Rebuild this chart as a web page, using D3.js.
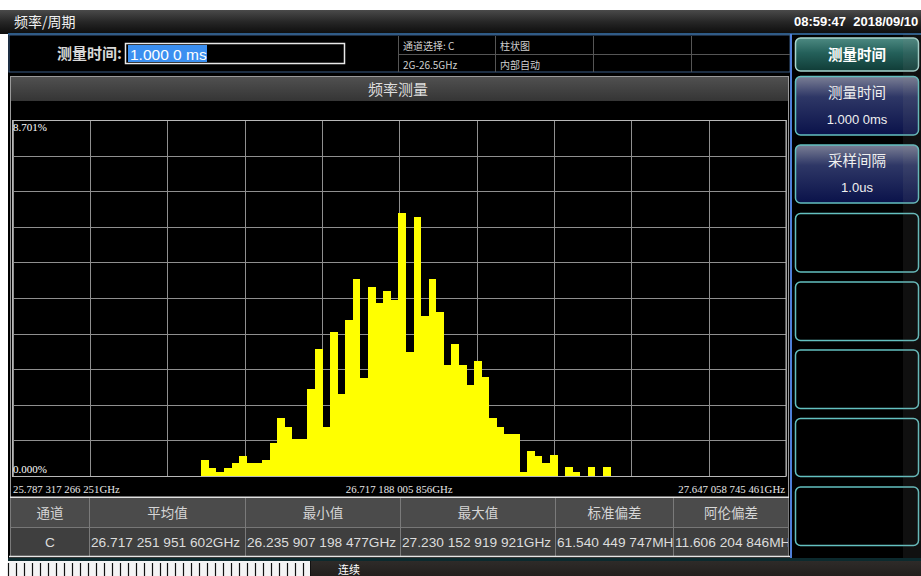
<!DOCTYPE html>
<html>
<head>
<meta charset="utf-8">
<script src="https://cdn.jsdelivr.net/npm/d3@7"></script>
<style>
  html, body { margin: 0; padding: 0; background: #ffffff; overflow: hidden; }
  svg { display: block; }
  .cjk { font-family: "Noto Sans CJK SC", "Noto Sans", sans-serif; }
  .sans { font-family: "Liberation Sans", "DejaVu Sans", sans-serif; }
  .serif { font-family: "Liberation Serif", "DejaVu Serif", serif; }
</style>
</head>
<body>
<script>
// ---- Measurement data -------------------------------------------------
// Frequency axis span (GHz) and the histogram bin range
const xDomainGHz = [25.787317266251, 27.647058745461];
const histRangeGHz = [26.2413, 27.2253];
// Percentage of samples falling in each bin
const binPercent = [
  0.391, 0.203, 0.105, 0.203, 0.310, 0.496, 0.310, 0.310, 0.391, 0.799,
  1.410, 1.205, 0.904, 0.904, 2.119, 3.104, 1.205, 3.512, 2.004, 3.813,
  4.815, 2.403, 4.619, 4.221, 4.522, 4.309, 6.421, 3.038, 6.323, 3.918,
  4.815, 4.016, 2.713, 3.219, 2.713, 2.224, 2.811, 2.412, 1.425, 1.205,
  1.019, 1.019, 0.105, 0.611, 0.496, 0.325, 0.513, 0.000, 0.213, 0.105,
  0.000, 0.213, 0.000, 0.213
];
const yMaxPercent = 8.701;
const yTickLabels = ["8.701%", "0.000%"];
const xTickLabels = ["25.787 317 266 251GHz", "26.717 188 005 856GHz", "27.647 058 745 461GHz"];

// Statistics table
const statHeaders = ["通道", "平均值", "最小值", "最大值", "标准偏差", "阿伦偏差"];
const statValues = ["C", "26.717 251 951 602GHz", "26.235 907 198 477GHz", "27.230 152 919 921GHz", "61.540 449 747MHz", "11.606 204 846MHz"];

// Header / soft keys
const windowTitle = "频率/周期";
const clockText = "08:59:47  2018/09/10";
const gateLabel = "测量时间:";
const gateValue = "1.000 0 ms";
const infoCells = [["通道选择: C", "柱状图", "", ""], ["2G-26.5GHz", "内部自动", "", ""]];
const panelTitle = "频率测量";
const softKeys = [
  { title: "测量时间", value: null, style: "active" },
  { title: "测量时间", value: "1.000 0ms", style: "menu" },
  { title: "采样间隔", value: "1.0us", style: "menu" },
  { title: null, value: null, style: "empty" },
  { title: null, value: null, style: "empty" },
  { title: null, value: null, style: "empty" },
  { title: null, value: null, style: "empty" },
  { title: null, value: null, style: "empty" }
];
const runModeText = "连续";

// ---- Drawing ----------------------------------------------------------
const W = 921, H = 576;
const svg = d3.select("body").append("svg").attr("width", W).attr("height", H);
const defs = svg.append("defs");

function vGrad(id, stops) {
  const g = defs.append("linearGradient").attr("id", id)
    .attr("x1", 0).attr("y1", 0).attr("x2", 0).attr("y2", 1);
  stops.forEach(([o, c]) => g.append("stop").attr("offset", o).attr("stop-color", c));
}
vGrad("gTitle", [[0, "#4a4a4a"], [0.5, "#262626"], [1, "#0c0c0c"]]);
vGrad("gPanelTitle", [[0, "#505050"], [1, "#353535"]]);
vGrad("gActive", [[0, "#4d8a82"], [0.45, "#24605a"], [1, "#103c37"]]);
vGrad("gMenu", [[0, "#7b7f95"], [0.35, "#2e3766"], [1, "#0a124a"]]);
vGrad("gBottom", [[0, "#2e2b29"], [1, "#221f1d"]]);

// page background
svg.append("rect").attr("width", W).attr("height", H).attr("fill", "#ffffff");
svg.append("rect").attr("x", 8).attr("y", 33).attr("width", W - 8).attr("height", H - 33).attr("fill", "#000000");

// window title bar
svg.append("rect").attr("x", 0).attr("y", 10).attr("width", W).attr("height", 24).attr("fill", "url(#gTitle)");
svg.append("text").attr("class", "cjk").attr("x", 14).attr("y", 27).attr("fill", "#f0f0f0")
  .attr("font-size", 14).text(windowTitle);
svg.append("text").attr("class", "sans").attr("x", 794).attr("y", 26).attr("fill", "#ffffff")
  .attr("font-size", 13).attr("font-weight", "bold").attr("xml:space", "preserve").text(clockText);
svg.append("rect").attr("x", 8).attr("y", 33).attr("width", W - 8).attr("height", 2).attr("fill", "#2c5a86");

// header row: gate time entry + info cells
svg.append("rect").attr("x", 9).attr("y", 35).attr("width", 781).attr("height", 37)
  .attr("fill", "#000").attr("stroke", "#3a5d85").attr("stroke-width", 1);
svg.append("text").attr("class", "cjk").attr("x", 122).attr("y", 59).attr("text-anchor", "end")
  .attr("fill", "#d8d8d8").attr("font-size", 15).attr("font-weight", "bold").text(gateLabel);
svg.append("rect").attr("x", 125.5).attr("y", 43.5).attr("width", 219).attr("height", 20)
  .attr("fill", "#000").attr("stroke", "#e8e8e8").attr("stroke-width", 1.5);
svg.append("rect").attr("x", 128).attr("y", 45).attr("width", 79).attr("height", 17).attr("fill", "#3b8ff0");
svg.append("text").attr("class", "sans").attr("x", 130).attr("y", 59.5).attr("fill", "#ffffff")
  .attr("font-size", 15.5).attr("xml:space", "preserve").text(gateValue);

const infoX = [398, 495, 593, 691, 790];
const infoRowY = [36, 54.5, 72];
const infoG = svg.append("g");
infoX.forEach(x => infoG.append("line").attr("x1", x + 0.5).attr("x2", x + 0.5)
  .attr("y1", 36).attr("y2", 72).attr("stroke", "#555"));
infoG.append("line").attr("x1", 398).attr("x2", 790).attr("y1", 54.5).attr("y2", 54.5).attr("stroke", "#555");
infoCells.forEach((row, r) => row.forEach((t, c) => {
  if (!t) return;
  infoG.append("text").attr("class", "cjk").attr("x", infoX[c] + 5).attr("y", infoRowY[r] + 14)
    .attr("fill", "#cfcfcf").attr("font-size", 10).text(t);
}));

// main panel frame
svg.append("rect").attr("x", 10.5).attr("y", 76.5).attr("width", 778).attr("height", 480)
  .attr("fill", "#000").attr("stroke", "#9a9a9a");
svg.append("rect").attr("x", 11).attr("y", 77).attr("width", 777).attr("height", 24).attr("fill", "url(#gPanelTitle)");
svg.append("text").attr("class", "cjk").attr("x", 398).attr("y", 95).attr("text-anchor", "middle")
  .attr("fill", "#dedede").attr("font-size", 15).text(panelTitle);

// histogram plot
const plot = { left: 12.5, right: 786, top: 120, bottom: 476 };
const x = d3.scaleLinear().domain(xDomainGHz).range([plot.left, plot.right]);
const y = d3.scaleLinear().domain([0, yMaxPercent]).range([plot.bottom, plot.top]);

const gridG = svg.append("g");
const xGridVals = d3.range(11).map(i => xDomainGHz[0] + i * (xDomainGHz[1] - xDomainGHz[0]) / 10);
const yGridVals = d3.range(11).map(i => i * yMaxPercent / 10);
gridG.selectAll("line.vx").data(xGridVals).join("line")
  .attr("x1", d => Math.round(x(d)) + 0.5).attr("x2", d => Math.round(x(d)) + 0.5)
  .attr("y1", plot.top).attr("y2", plot.bottom)
  .attr("stroke", "#8f8f8f").attr("stroke-width", 1);
gridG.selectAll("line.hy").data(yGridVals).join("line")
  .attr("y1", d => Math.round(y(d)) + 0.5).attr("y2", d => Math.round(y(d)) + 0.5)
  .attr("x1", plot.left).attr("x2", plot.right)
  .attr("stroke", "#8f8f8f").attr("stroke-width", 1);

// histogram drawn as one stepped area so adjacent bins join without seams
const binW = (histRangeGHz[1] - histRangeGHz[0]) / binPercent.length;
const stepPts = binPercent.map((v, i) => ({ g: histRangeGHz[0] + i * binW, v }));
stepPts.push({ g: histRangeGHz[1], v: binPercent[binPercent.length - 1] });
const histArea = d3.area()
  .curve(d3.curveStepAfter)
  .x(d => x(d.g))
  .y0(y(0))
  .y1(d => y(d.v));
svg.append("path").datum(stepPts).attr("d", histArea)
  .attr("fill", "#ffff00").attr("shape-rendering", "crispEdges");

// frame lines of the plot
svg.append("rect").attr("x", plot.left).attr("y", plot.top + 0.5)
  .attr("width", plot.right - plot.left).attr("height", plot.bottom - plot.top)
  .attr("fill", "none").attr("stroke", "#b8b8b8");

// axis labels
svg.append("text").attr("class", "serif").attr("x", 13).attr("y", 131).attr("fill", "#ffffff")
  .attr("font-size", 11).text(yTickLabels[0]);
svg.append("text").attr("class", "serif").attr("x", 13).attr("y", 473).attr("fill", "#ffffff")
  .attr("font-size", 11).text(yTickLabels[1]);
const xLabAnchor = ["start", "middle", "end"];
const xLabPos = [x(xDomainGHz[0]) + 0.5, x((xDomainGHz[0] + xDomainGHz[1]) / 2), x(xDomainGHz[1]) - 1];
xTickLabels.forEach((t, i) => svg.append("text").attr("class", "serif")
  .attr("x", xLabPos[i]).attr("y", 492.5).attr("text-anchor", xLabAnchor[i])
  .attr("fill", "#e8e8e8").attr("font-size", 10.8).text(t));

// statistics table
const colX = [10.5, 89.5, 245.5, 400.5, 555.5, 673.5, 788.5];
const tblTop = 498, rowMid = 527, tblBot = 556;
svg.append("line").attr("x1", 10).attr("x2", 789).attr("y1", tblTop - 0.5).attr("y2", tblTop - 0.5)
  .attr("stroke", "#e0e0e0").attr("stroke-width", 2);
svg.append("rect").attr("x", 11).attr("y", tblTop).attr("width", 777).attr("height", rowMid - tblTop).attr("fill", "#4b4b4b");
svg.append("rect").attr("x", 11).attr("y", rowMid).attr("width", 777).attr("height", tblBot - rowMid).attr("fill", "#3f3f3f");
svg.append("line").attr("x1", 11).attr("x2", 788).attr("y1", rowMid + 0.5).attr("y2", rowMid + 0.5).attr("stroke", "#777");
colX.forEach(cx => svg.append("line").attr("x1", cx).attr("x2", cx).attr("y1", tblTop).attr("y2", tblBot)
  .attr("stroke", "#7a7a7a"));
statHeaders.forEach((t, i) => {
  const cid = "clip" + i;
  defs.append("clipPath").attr("id", cid).append("rect")
    .attr("x", colX[i] + 1).attr("y", tblTop).attr("width", colX[i + 1] - colX[i] - 1.5).attr("height", tblBot - tblTop);
  const g = svg.append("g").attr("clip-path", `url(#${cid})`);
  const cx = (colX[i] + colX[i + 1]) / 2;
  g.append("text").attr("class", "cjk").attr("x", cx).attr("y", 518).attr("text-anchor", "middle")
    .attr("fill", "#d6d6d6").attr("font-size", 13.5).text(t);
  const v = statValues[i];
  const longVal = v.length > 3;
  g.append("text").attr("class", "sans")
    .attr("x", longVal ? colX[i] + 1.5 : cx).attr("y", 547)
    .attr("text-anchor", longVal ? "start" : "middle")
    .attr("fill", "#dcdcdc").attr("font-size", 13.7).text(v);
});
svg.append("line").attr("x1", 9).attr("x2", 790).attr("y1", tblBot + 0.5).attr("y2", tblBot + 0.5)
  .attr("stroke", "#e6e6e6").attr("stroke-width", 1.5);

// right-hand soft key panel
svg.append("line").attr("x1", 791).attr("x2", 791).attr("y1", 34).attr("y2", 560)
  .attr("stroke", "#4f7fd8").attr("stroke-width", 2);
const keyY = [38, 76.5, 145, 213.5, 282, 350, 418.5, 487];
const keyH = [33, 58.5, 58, 58.5, 58.5, 58.5, 58, 58.5];
softKeys.forEach((k, i) => {
  const g = svg.append("g");
  const fill = k.style === "active" ? "url(#gActive)" : k.style === "menu" ? "url(#gMenu)" : "#000";
  const stroke = k.style === "active" ? "#a7d6cf" : "#63c0c0";
  g.append("rect").attr("x", 795.5).attr("y", keyY[i]).attr("width", 123).attr("height", keyH[i])
    .attr("rx", 5).attr("ry", 5).attr("fill", fill).attr("stroke", stroke).attr("stroke-width", 1.5);
  if (k.title && !k.value) {
    g.append("text").attr("class", "cjk").attr("x", 857).attr("y", keyY[i] + keyH[i] / 2 + 5.5)
      .attr("text-anchor", "middle").attr("fill", "#ffffff").attr("font-size", 14.5)
      .attr("font-weight", "bold").text(k.title);
  } else if (k.title) {
    g.append("text").attr("class", "cjk").attr("x", 857).attr("y", keyY[i] + 21)
      .attr("text-anchor", "middle").attr("fill", "#f0f0f0").attr("font-size", 14.5).text(k.title);
    g.append("text").attr("class", "sans").attr("x", 857).attr("y", keyY[i] + 47)
      .attr("text-anchor", "middle").attr("fill", "#f0f0f0").attr("font-size", 13).text(k.value);
  }
});
// faint shade on the far right edge
svg.append("rect").attr("x", 903).attr("y", 34).attr("width", 18).attr("height", 526)
  .attr("fill", "#808080").attr("opacity", 0.12);

// status strip at the bottom
svg.append("rect").attr("x", 8).attr("y", 558).attr("width", W - 8).attr("height", 3).attr("fill", "#0c2a2e");
svg.append("rect").attr("x", 8).attr("y", 561).attr("width", W - 8).attr("height", 15).attr("fill", "url(#gBottom)");
const rulerCells = d3.range(38);
const cellW = (311 - 8) / rulerCells.length;
svg.append("rect").attr("x", 8).attr("y", 561).attr("width", 303).attr("height", 15).attr("fill", "#f4f4f4");
svg.append("g").selectAll("line").data(rulerCells).join("line")
  .attr("x1", d => Math.round(8 + d * cellW) + 0.5).attr("x2", d => Math.round(8 + d * cellW) + 0.5)
  .attr("y1", 563).attr("y2", 576).attr("stroke", "#111").attr("stroke-width", 1.2);
svg.append("line").attr("x1", 310.5).attr("x2", 310.5).attr("y1", 561).attr("y2", 576).attr("stroke", "#111");
svg.append("text").attr("class", "cjk").attr("x", 338).attr("y", 573.5).attr("fill", "#ffffff")
  .attr("font-size", 11).text(runModeText);
</script>
</body>
</html>
